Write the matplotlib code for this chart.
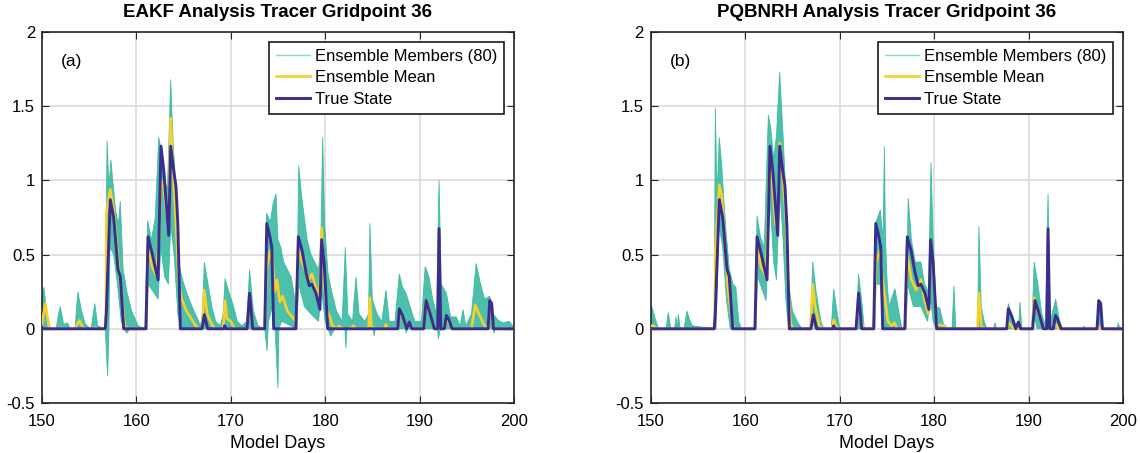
import numpy as np
import matplotlib
matplotlib.use("Agg")
import matplotlib.pyplot as plt
from matplotlib.lines import Line2D

plt.rcParams['font.family'] = ['Liberation Sans', 'DejaVu Sans']

# true state (same in both panels) as (day, value) vertices
truth_days = [150, 156.71, 156.82, 157.24, 157.6, 158.06, 158.3, 158.66, 161.02, 161.24, 161.66,
              162.3, 162.61, 162.9, 163.43, 163.64, 163.99, 164.2, 164.4, 164.66, 166.96, 167.2,
              167.56, 169.3, 169.36, 169.5, 171.73, 172.0, 172.33, 173.6, 173.82, 174.15, 174.35,
              174.55, 176.9, 177.16, 177.55, 177.97, 178.32, 178.6, 179.03, 179.45, 179.63, 179.9,
              180.27, 187.69, 187.86, 188.2, 188.64, 188.92, 189.17, 190.44, 190.69, 191.04,
              191.57, 191.93, 192.07, 192.25, 192.63, 192.85, 193.06, 193.45, 197.26, 197.44,
              197.65, 197.83, 200]
truth_vals = [0, 0, 0.11, 0.87, 0.75, 0.40, 0.35, 0, 0, 0.62, 0.51,
              0.33, 1.23, 1.07, 0.63, 1.23, 1.05, 0.96, 0.7, 0, 0, 0.095,
              0, 0, 0.02, 0, 0, 0.24, 0, 0, 0.71, 0.62, 0.55,
              0, 0, 0.62, 0.53, 0.38, 0.29, 0.30, 0.24, 0.13, 0.60, 0.44,
              0, 0, 0.135, 0.09, 0, 0.045, 0, 0, 0.19, 0.12,
              0, 0, 0.675, 0, 0, 0.09, 0.07, 0, 0, 0.19,
              0.17, 0, 0]

# EAKF ensemble mean
eakf_mean_days = [150.0, 150.35, 150.78, 153.5, 153.96, 154.4, 155.5, 155.7, 155.9, 156.78, 156.82,
                  157.24, 157.6, 158.2, 158.76, 159.1, 161.05, 161.24, 161.66, 162.1, 162.4, 162.61,
                  162.9, 163.4, 163.64, 163.9, 164.2, 164.5, 164.8, 165.3, 165.9, 166.3, 166.6,
                  166.95, 167.2, 167.5, 168.0, 168.3, 169.2, 169.4, 169.6, 170.0, 170.4, 171.73,
                  172.0, 172.33, 173.6, 173.8, 174.2, 174.45, 174.65, 174.9, 175.2, 175.5, 176.0,
                  176.5, 176.9, 177.16, 177.55, 177.97, 178.3, 178.6, 179.0, 179.4, 179.63, 179.9,
                  180.2, 180.5, 180.8, 181.2, 181.5, 181.8, 182.6, 183.0, 183.3, 184.6, 184.75,
                  184.9, 185.2, 186.3, 186.45, 186.6, 187.69, 187.86, 188.2, 188.64, 188.92, 189.17,
                  190.44, 190.65, 191.04, 191.57, 191.93, 192.07, 192.25, 192.63, 192.85, 193.06,
                  193.45, 195.5, 195.9, 196.3, 196.8, 197.26, 197.44, 197.65, 197.83, 200.0]
eakf_mean_vals = [0.03, 0.17, 0.0, 0.0, 0.056, 0.0, 0.0, 0.01, 0.0, 0.0, 0.78,
                  0.94, 0.80, 0.37, 0.02, 0.0, 0.0, 0.56, 0.42, 0.36, 0.6, 1.0,
                  0.95, 0.67, 1.42, 1.05, 0.7, 0.3, 0.2, 0.12, 0.06, 0.02, 0.0,
                  0.0, 0.26, 0.1, 0.03, 0.0, 0.0, 0.19, 0.07, 0.05, 0.0, 0.0,
                  0.22, 0.0, 0.0, 0.4, 0.53, 0.45, 0.25, 0.33, 0.18, 0.22, 0.12,
                  0.08, 0.05, 0.55, 0.45, 0.38, 0.33, 0.37, 0.28, 0.22, 0.68, 0.3,
                  0.12, 0.08, 0.02, 0.0, 0.02, 0.0, 0.0, 0.02, 0.0, 0.0, 0.21,
                  0.02, 0.0, 0.0, 0.03, 0.0, 0.0, 0.12, 0.08, 0.0, 0.03, 0.0,
                  0.0, 0.19, 0.12, 0.0, 0.0, 0.1, 0.0, 0.0, 0.06, 0.05,
                  0.0, 0.0, 0.16, 0.1, 0.03, 0.0, 0.17, 0.15, 0.0, 0.0]

# EAKF ensemble spread: highest and lowest member
eakf_hi_days = [150.0, 150.2, 150.5, 150.9, 151.5, 151.7, 151.94, 152.3, 152.7, 153.0, 153.5, 153.8,
                154.2, 154.6, 155.2, 155.6, 155.9, 156.7, 156.9, 157.1, 157.3, 157.5, 157.8, 158.1,
                158.3, 158.6, 159.0, 159.5, 160.2, 160.9, 161.2, 161.6, 162.0, 162.37, 162.6, 162.9,
                163.3, 163.64, 163.9, 164.2, 164.5, 164.8, 165.3, 165.9, 166.4, 166.8, 167.0, 167.2,
                167.6, 168.0, 168.4, 168.9, 169.2, 169.4, 169.8, 170.3, 170.7, 171.2, 171.7, 172.0,
                172.4, 172.9, 173.6, 173.8, 174.2, 174.5, 174.8, 175.0, 175.3, 175.6, 176.0, 176.4,
                176.8, 177.0, 177.2, 177.5, 177.8, 178.1, 178.5, 178.9, 179.3, 179.55, 179.74,
                179.95, 180.3, 180.7, 181.2, 181.8, 182.14, 182.4, 182.9, 183.27, 183.6, 184.2,
                184.6, 184.75, 185.0, 185.5, 186.0, 186.45, 186.8, 187.4, 187.86, 188.2, 188.57,
                189.0, 189.5, 190.2, 190.6, 191.0, 191.4, 191.8, 192.07, 192.3, 192.85, 193.3,
                193.9, 194.3, 194.6, 194.9, 195.5, 196.0, 196.4, 196.9, 197.44, 197.8, 198.3,
                198.8, 199.5, 200.0]
eakf_hi_vals = [0.20, 0.28, 0.12, 0.0, 0.0, 0.08, 0.15, 0.03, 0.04, 0.0, 0.0, 0.25,
                0.12, 0.03, 0.0, 0.17, 0.02, 0.0, 1.27, 0.95, 1.14, 1.0, 0.8, 0.7,
                0.86, 0.4, 0.25, 0.12, 0.02, 0.0, 0.73, 0.6, 0.75, 1.29, 1.22, 1.0,
                0.95, 1.68, 1.25, 0.95, 0.45, 0.35, 0.25, 0.15, 0.08, 0.02, 0.1, 0.45,
                0.3, 0.15, 0.05, 0.02, 0.1, 0.34, 0.25, 0.15, 0.05, 0.02, 0.05, 0.40,
                0.12, 0.02, 0.0, 0.78, 0.72, 0.85, 0.91, 0.6, 0.55, 0.45, 0.4, 0.35,
                0.2, 0.1, 1.1, 0.9, 0.75, 0.6, 0.5, 0.45, 0.4, 0.6, 1.29,
                0.7, 0.38, 0.25, 0.12, 0.05, 0.55, 0.1, 0.05, 0.35, 0.1, 0.05,
                0.1, 0.71, 0.2, 0.1, 0.05, 0.26, 0.05, 0.05, 0.37, 0.28, 0.24,
                0.15, 0.05, 0.05, 0.42, 0.35, 0.2, 0.1, 1.0, 0.3, 0.24, 0.08,
                0.08, 0.02, 0.13, 0.02, 0.1, 0.44, 0.32, 0.2, 0.22, 0.1, 0.06,
                0.04, 0.05, 0.01]
eakf_lo_days = [150.0, 156.7, 156.96, 157.1, 157.2, 157.6, 158.0, 158.4, 158.7, 159.0, 159.3,
                161.0, 161.24, 161.8, 162.3, 162.6, 163.0, 163.4, 163.64, 164.0, 164.4, 164.7,
                173.6, 173.85, 174.0, 174.4, 174.7, 175.0, 175.1, 175.4, 177.0, 177.2, 177.8,
                178.5, 179.3, 179.63, 180.0, 180.3, 180.6, 181.0, 182.1, 182.2, 182.3, 185.1,
                185.2, 185.3, 188.5, 188.6, 188.7, 191.9, 192.0, 192.2, 197.8, 197.9, 198.0, 200.0]
eakf_lo_vals = [0.0, 0.0, -0.32, 0.0, 0.55, 0.5, 0.3, 0.05, 0.0, -0.03, 0.0,
                0.0, 0.3, 0.25, 0.2, 0.55, 0.35, 0.3, 0.7, 0.5, 0.1, 0.0,
                0.0, -0.15, 0.05, 0.15, 0.0, -0.40, 0.0, 0.05, 0.0, 0.3, 0.15,
                0.1, 0.05, 0.25, 0.05, 0.0, -0.05, 0.0, 0.0, -0.13, 0.0, 0.0,
                -0.05, 0.0, 0.0, -0.03, 0.0, 0.0, -0.07, 0.0, 0.0, -0.03, 0.0, 0.0]

# PQBNRH ensemble mean
pqb_mean_days = [150.0, 150.3, 150.6, 156.78, 156.8, 157.24, 157.5, 157.85, 158.2, 158.66, 159.0,
                 161.05, 161.24, 161.66, 162.2, 162.61, 162.9, 163.2, 163.5, 163.64, 164.0, 164.3,
                 164.55, 164.8, 165.1, 166.9, 167.14, 167.4, 167.8, 168.1, 169.2, 169.36, 169.6,
                 169.9, 171.75, 172.0, 172.3, 172.5, 173.6, 173.85, 174.3, 174.5, 174.8, 175.1,
                 175.5, 175.8, 176.1, 176.95, 177.16, 177.6, 178.1, 178.6, 179.0, 179.4, 179.63,
                 179.9, 180.27, 181.0, 181.3, 184.6, 184.75, 185.0, 185.3, 187.7, 187.9, 188.3,
                 188.6, 190.4, 190.6, 191.0, 191.5, 191.7, 192.6, 192.85, 193.2, 197.3, 197.44,
                 197.6, 200.0]
pqb_mean_vals = [0.02, 0.02, 0.0, 0.0, 0.48, 0.97, 0.9, 0.55, 0.24, 0.02, 0.0,
                 0.0, 0.55, 0.42, 0.35, 1.18, 0.95, 0.7, 0.75, 1.25, 1.0, 0.75,
                 0.25, 0.03, 0.0, 0.0, 0.30, 0.15, 0.03, 0.0, 0.0, 0.06, 0.02,
                 0.0, 0.0, 0.2, 0.05, 0.0, 0.0, 0.45, 0.53, 0.35, 0.2, 0.05,
                 0.02, 0.04, 0.0, 0.0, 0.5, 0.33, 0.26, 0.33, 0.19, 0.1, 0.55,
                 0.42, 0.03, 0.02, 0.0, 0.0, 0.24, 0.02, 0.0, 0.0, 0.04, 0.01,
                 0.0, 0.0, 0.21, 0.12, 0.02, 0.0, 0.0, 0.03, 0.0, 0.0, 0.02,
                 0.0, 0.0]

# PQBNRH ensemble spread
pqb_hi_days = [150.0, 150.1, 150.4, 150.8, 151.6, 151.84, 152.1, 152.5, 152.65, 152.8, 152.9,
               153.1, 153.5, 153.82, 154.1, 154.4, 156.7, 156.82, 157.0, 157.24, 157.5, 157.9,
               158.3, 158.7, 159.0, 159.3, 159.6, 161.0, 161.24, 161.6, 162.0, 162.44, 162.7,
               163.0, 163.3, 163.64, 164.0, 164.3, 164.6, 165.0, 165.5, 166.0, 166.9, 167.14,
               167.5, 168.0, 168.3, 169.1, 169.36, 169.7, 170.0, 171.7, 172.0, 172.4, 172.6,
               173.6, 173.85, 174.3, 174.6, 174.73, 174.85, 175.0, 175.2, 175.85, 176.3, 176.6,
               177.0, 177.26, 177.6, 178.0, 178.6, 179.0, 179.4, 179.67, 179.9, 180.2, 180.6,
               181.0, 181.5, 181.9, 182.1, 182.3, 184.6, 184.75, 185.0, 185.3, 185.6, 186.3,
               186.45, 186.6, 187.65, 187.86, 188.3, 188.7, 188.95, 189.1, 189.3, 190.35, 190.6,
               191.0, 191.4, 191.8, 192.07, 192.3, 192.88, 193.3, 193.6, 195.8, 195.9, 196.0,
               197.25, 197.44, 197.8, 199.4, 199.5, 199.7, 200.0]
pqb_hi_vals = [0.10, 0.15, 0.08, 0.0, 0.0, 0.11, 0.0, 0.0, 0.08, 0.0, 0.1,
               0.0, 0.0, 0.12, 0.06, 0.02, 0.0, 1.49, 0.9, 1.29, 1.1, 0.7,
               0.4, 0.3, 0.28, 0.05, 0.0, 0.0, 0.76, 0.62, 0.55, 1.44, 1.35,
               1.15, 1.3, 1.73, 1.3, 0.9, 0.3, 0.12, 0.05, 0.0, 0.0, 0.45,
               0.25, 0.05, 0.0, 0.0, 0.27, 0.12, 0.0, 0.0, 0.37, 0.15, 0.0,
               0.0, 0.72, 0.8, 0.6, 1.23, 0.6, 0.35, 0.15, 0.27, 0.1, 0.0,
               0.0, 0.88, 0.6, 0.45, 0.45, 0.3, 0.25, 1.12, 0.6, 0.15, 0.14,
               0.03, 0.0, 0.0, 0.29, 0.0, 0.0, 0.69, 0.15, 0.05, 0.0, 0.0,
               0.04, 0.0, 0.0, 0.17, 0.08, 0.02, 0.0, 0.18, 0.0, 0.0, 0.45,
               0.3, 0.1, 0.02, 0.91, 0.05, 0.2, 0.05, 0.0, 0.0, 0.02, 0.0,
               0.0, 0.19, 0.0, 0.0, 0.04, 0.0, 0.0]
pqb_lo_days = [150.0, 156.9, 157.2, 157.6, 158.0, 158.4, 161.1, 161.3, 162.2, 162.6, 163.0,
               163.3, 163.64, 164.0, 164.3, 164.6, 166.9, 167.14, 167.3, 173.7, 173.85, 174.3,
               174.6, 177.0, 177.2, 177.8, 178.6, 179.3, 179.63, 179.9, 180.2, 190.5, 190.6,
               190.9, 192.0, 192.07, 192.15, 200.0]
pqb_lo_vals = [0.0, 0.0, 0.7, 0.55, 0.2, 0.0, 0.0, 0.35, 0.19, 0.9, 0.45,
               0.33, 0.95, 0.6, 0.19, 0.0, 0.0, 0.15, 0.0, 0.0, 0.3, 0.3,
               0.0, 0.0, 0.3, 0.15, 0.15, 0.05, 0.2, 0.05, 0.0, 0.0, 0.1,
               0.0, 0.0, 0.4, 0.0, 0.0]

titles = ['EAKF Analysis Tracer Gridpoint 36', 'PQBNRH Analysis Tracer Gridpoint 36']
panel_tags = ['(a)', '(b)']
ytick_vals = [-0.5, 0, 0.5, 1, 1.5, 2]
ytick_labels = ['-0.5', '0', '0.5', '1', '1.5', '2']
xtick_vals = [150, 160, 170, 180, 190, 200]

c_member = '#33b89e'
c_member_leg = '#86dccb'
c_mean = '#f7d02a'
c_truth = '#3a2d8f'

fig = plt.figure(figsize=(11.4, 4.53), dpi=100)
ax_a = fig.add_axes([0.0368, 0.1104, 0.414, 0.819])
ax_b = fig.add_axes([0.571, 0.1104, 0.414, 0.819])

panels = [
    (ax_a, eakf_hi_days, eakf_hi_vals, eakf_lo_days, eakf_lo_vals, eakf_mean_days, eakf_mean_vals),
    (ax_b, pqb_hi_days, pqb_hi_vals, pqb_lo_days, pqb_lo_vals, pqb_mean_days, pqb_mean_vals),
]

for i, (ax, hd, hv, ld, lv, md, mv) in enumerate(panels):
    # ensemble spread as one polygon: top edge forward, bottom edge back
    px = list(hd) + list(ld)[::-1]
    py = list(hv) + list(lv)[::-1]
    ax.fill(px, py, color=c_member, alpha=0.88, lw=0.6, ec=c_member, zorder=2)
    ax.plot(md, mv, color=c_mean, lw=1.9, zorder=3)
    ax.plot(truth_days, truth_vals, color=c_truth, lw=2.1, zorder=4)

    ax.set_xlim(150, 200)
    ax.set_ylim(-0.5, 2)
    ax.set_xticks(xtick_vals)
    ax.set_yticks(ytick_vals)
    ax.set_yticklabels(ytick_labels)
    ax.tick_params(direction='in', top=True, right=True, labelsize=12, length=5,
                   width=0.8, color='#262626')
    ax.tick_params(axis='x', pad=8)
    ax.tick_params(axis='y', pad=5)
    ax.grid(True, color='#dcdcdc', lw=1.2, zorder=0)
    ax.set_axisbelow(True)
    for s in ax.spines.values():
        s.set_linewidth(1.2)
        s.set_color('#262626')
    ax.set_title(titles[i], fontsize=13.5, fontweight='bold', pad=11)
    ax.set_xlabel('Model Days', fontsize=13, labelpad=4)
    ax.text(152.0, 1.8, panel_tags[i], fontsize=12.5, va='center', ha='left')

    handles = [Line2D([], [], color=c_member_leg, lw=1.0),
               Line2D([], [], color=c_mean, lw=1.9),
               Line2D([], [], color=c_truth, lw=2.1)]
    leg = ax.legend(handles, ['Ensemble Members (80)', 'Ensemble Mean', 'True State'],
                    loc='upper right', bbox_to_anchor=(0.979, 0.973), borderaxespad=0,
                    fontsize=12, handlelength=2.0, handletextpad=0.3, labelspacing=0.38,
                    borderpad=0.42, fancybox=False, framealpha=1, edgecolor='#1a1a1a')
    leg.get_frame().set_linewidth(1.2)

fig.savefig('out.png', dpi=100)
